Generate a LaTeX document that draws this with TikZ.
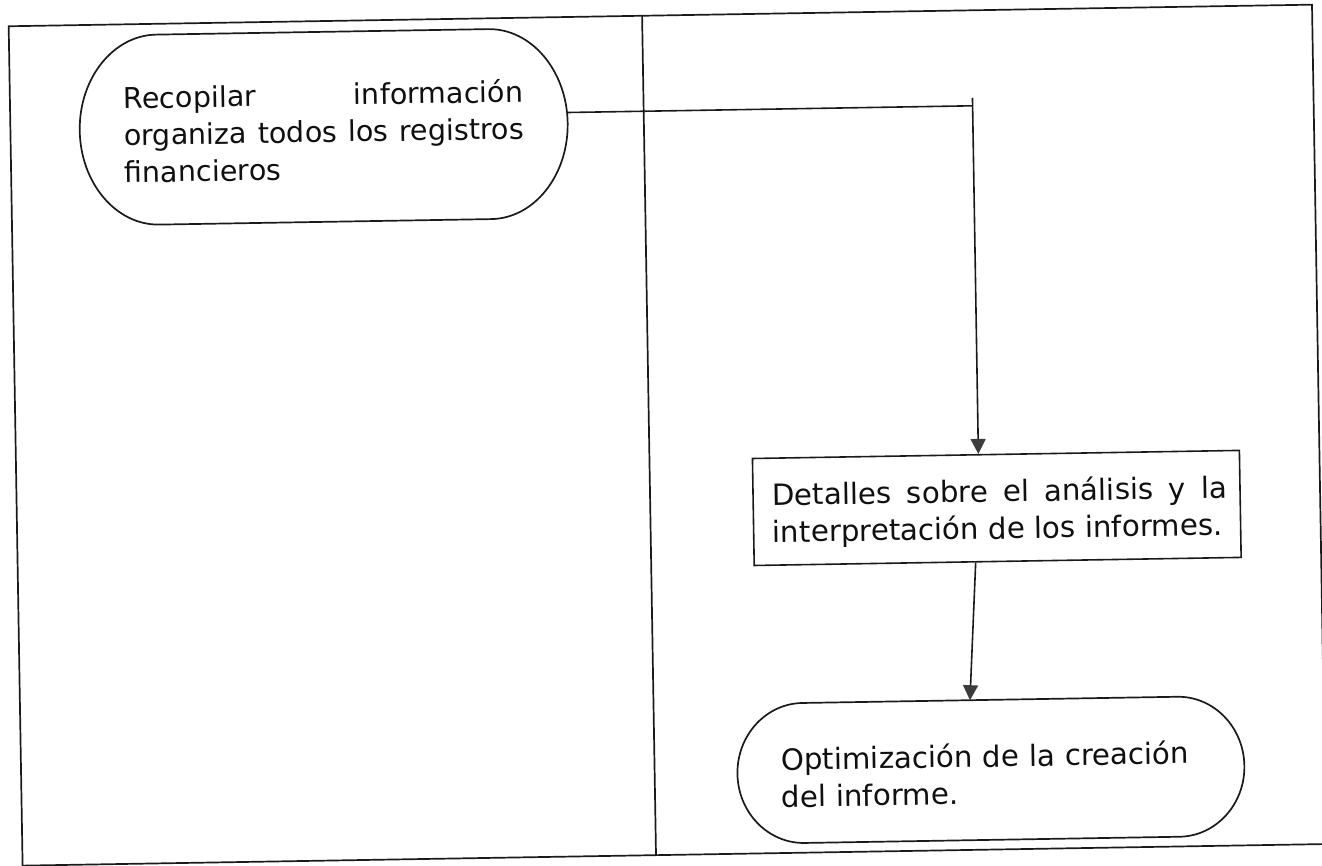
\documentclass[tikz,border=0pt]{standalone}
\usepackage{fontspec}
\setmainfont{DejaVu Sans}
\usetikzlibrary{arrows.meta}
\definecolor{ink}{HTML}{1A1A1A}
\definecolor{tipc}{HTML}{3C3C3C}
\definecolor{txt}{HTML}{101010}
\newcommand\fsone{\fontsize{28.6pt}{37pt}\selectfont}
\newcommand\fstwo{\fontsize{29.3pt}{37pt}\selectfont}
\newcommand\firstline{\rule{0pt}{31pt}}
% outline of a terminal (stadium with rounded ends):
% node, x radius, y radius, flat length, control factor
\newcommand\stadiumoutline[5]{%
  \draw[lane] (#1.north west) ++(#2,0) -- ++(#4,0)
    .. controls +({#5*#2},0) and +(0,{-#5*#3}) .. ++(#2,#3)
    .. controls +(0,{#5*#3}) and +({#5*#2},0) .. ++(-#2,#3)
    -- ++(-#4,0)
    .. controls +({-#5*#2},0) and +(0,{#5*#3}) .. ++(-#2,-#3)
    .. controls +(0,{-#5*#3}) and +({-#5*#2},0) .. ++(#2,-#3) -- cycle;}
\tikzset{
  lane/.style={draw=ink, line width=1.7pt},
  conn/.style={draw=ink, line width=1.6pt},
  arr/.style={conn, -{Triangle[length=15pt,width=15pt,color=tipc]}},
  termnode/.style={rectangle, draw=none, inner ysep=0pt, text=txt},
  procbox/.style={rectangle, draw=ink, line width=1.6pt, inner ysep=0pt, text=txt, align=justify},
}
\begin{document}
\begin{tikzpicture}[x=1pt,y=-1pt]
\useasboundingbox (0,0) rectangle (1322,865);
\begin{scope}[rotate around={0.95:(661,432.5)}, transform shape]
  % swimlane frame
  \draw[lane] (15.5,15.5) rectangle (1319,855);
  \draw[lane] (649,15.5) -- (649,855);
  % nodes
  \node[termnode, align=justify, text width=400pt, inner xsep=44pt,
        minimum height=190pt, font=\fsone] (s1) at (329,121.5)
    {\firstline Recopilar información\linebreak organiza todos los registros\linebreak financieros};
  \stadiumoutline{s1}{78}{95}{332}{0.552}
  \node[procbox, text width=461pt, inner xsep=13pt, minimum height=107pt,
        font=\fstwo] (box) at (995.5,513.5)
    {\firstline\hspace*{6pt}Detalles sobre el análisis y la\linebreak
     \hspace*{6pt}interpretación de los informes.};
  \node[termnode, align=left, text width=420pt, inner xsep=43.5pt,
        minimum height=140pt, font=\fstwo] (s2) at (985.5,775.5)
    {\firstline Optimización de la creación\\del informe.};
  \stadiumoutline{s2}{66}{70}{375}{0.552}
  % connectors
  \coordinate (c1) at (978,103);
  \coordinate (h1) at ([yshift=10.5pt]s1.east);
  \draw[conn] (h1) -- (h1 -| c1);
  \draw[arr] (c1) -- (c1 |- box.north);
  \draw[arr] ([xshift=-22pt]box.south) -- ([xshift=-20pt]s2.north);
\end{scope}
\end{tikzpicture}
\end{document}
